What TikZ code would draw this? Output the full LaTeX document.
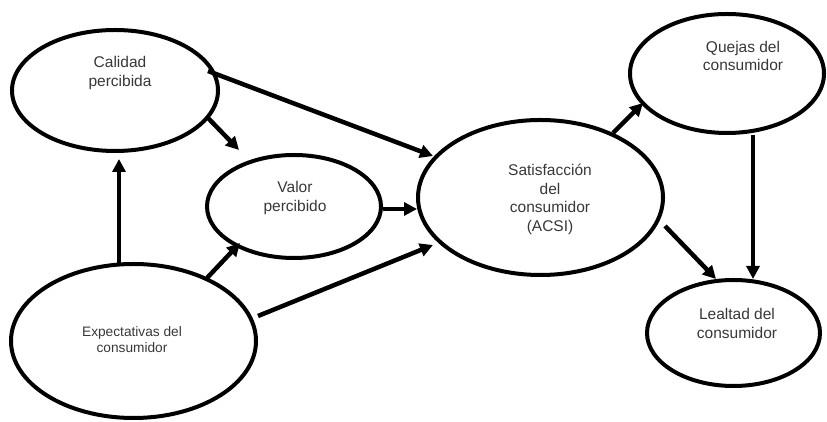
\documentclass[tikz,border=0pt]{standalone}
\usepackage{fontspec}
\setmainfont{Liberation Sans}
\usetikzlibrary{shapes.geometric,arrows.meta,calc}
\begin{document}
\begin{tikzpicture}[x=1pt,y=1pt,
  ell/.style={draw=black,line width=4pt,ellipse,inner sep=0pt,fill=white},
  lbl/.style={align=center,text=black!78,font=\fontsize{15.5}{18.5}\selectfont,inner sep=0pt},
  lblsmall/.style={align=center,text=black!78,font=\fontsize{13.7}{16}\selectfont,inner sep=0pt},
  arr/.style={line width=4.5pt,-{Triangle[length=13pt,width=13pt]}}
]
\useasboundingbox (0,0) rectangle (827,422);
% ellipses (page coords, y up)
\node[ell,minimum width=206pt,minimum height=121pt] (cal) at (115,331.5) {};
\node[ell,minimum width=174pt,minimum height=103pt] (val) at (294,215.5) {};
\node[ell,minimum width=245pt,minimum height=154pt] (exp) at (133.5,81) {};
\node[ell,minimum width=245pt,minimum height=155pt] (sat) at (540.5,224.5) {};
\node[ell,minimum width=194pt,minimum height=119pt] (que) at (727,348.5) {};
\node[ell,minimum width=173pt,minimum height=106pt] (lea) at (733.5,89) {};
% labels
\node[lbl] (calT) at ($(cal.center)+(5,17.5)$) {Calidad\\percibida};
\node[lbl] (valT) at ($(val.center)+(1,8.5)$) {Valor\\percibido};
\node[lblsmall] (expT) at ($(exp.center)+(-1.5,1)$) {Expectativas del\\consumidor};
\node[lbl] (satT) at ($(sat.center)+(9.5,-2)$) {Satisfacción\\del\\consumidor\\(ACSI)};
\node[lbl] (queT) at ($(que.center)+(16,17.5)$) {Quejas del\\consumidor};
\node[lbl] (leaT) at ($(lea.center)+(3.5,9.5)$) {Lealtad del\\consumidor};
% connectors
\draw[arr] ($(cal.center)+(93,19.5)$) -- ($(sat.center)+(-107.5,41.5)$);
\draw[arr] ($(cal.center)+(93,-27.5)$) -- ($(val.center)+(-55,56.5)$);
\draw[arr] ($(exp.center)+(-14.5,78)$) -- ($(cal.center)+(4,-68.5)$);
\draw[arr] ($(exp.center)+(73.5,63)$) -- ($(val.center)+(-54,-36.5)$);
\draw[arr] ($(exp.center)+(124.5,25)$) -- ($(sat.center)+(-107.5,-47.5)$);
\draw[arr] ($(val.center)+(89,-2.5)$) -- ($(sat.center)+(-123.5,-11.5)$);
\draw[arr] ($(sat.center)+(72.5,64.5)$) -- ($(que.center)+(-84,-29.5)$);
\draw[arr] ($(sat.center)+(124.5,-28.5)$) -- ($(lea.center)+(-17.5,54)$);
\draw[arr] ($(que.center)+(26,-61.5)$) -- ($(lea.center)+(19.5,54)$);
\end{tikzpicture}
\end{document}
